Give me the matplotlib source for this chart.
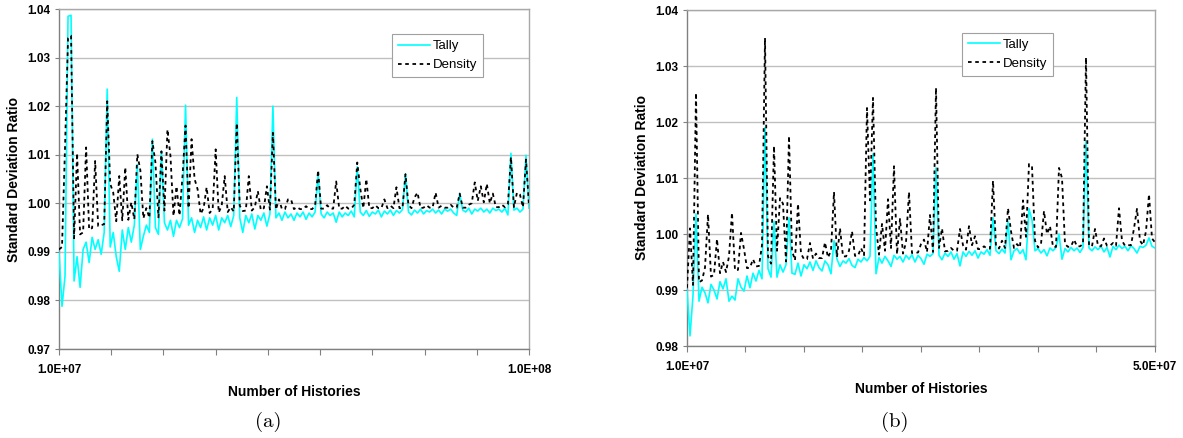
import matplotlib
matplotlib.use('Agg')
import matplotlib.pyplot as plt
import numpy as np

plt.rcParams['font.family'] = ['Liberation Sans', 'DejaVu Sans']

# values are (ratio - 1) in units of 1e-4 at even spacing
# panel (a): 1.0E+07 .. 1.0E+08 histories
dens_a = [
    -95, -90, 115, 340, 345, -72, 103, -64, -60, 115,
    -54, -51, 87, -47, -45, -43, 210, 40, 22, -37,
    56, -35, 74, -34, 2, -33, 101, 68, -31, -10,
    -30, 128, 84, -29, 107, -15, 152, 97, -26, 35,
    -25, 56, 160, -10, 132, 50, 29, -22, -10, 33,
    -20, -12, 111, -19, -5, 56, -18, -8, -17, 165,
    -5, -16, -15, 56, -15, -8, 25, -14, -10, 35,
    -13, 145, -13, 8, -12, -12, 8, 8, -12, -8,
    -12, -12, -6, -12, -12, -5, 68, -11, -11, -4,
    -11, -11, 45, -11, -11, -5, -11, -11, -3, 84,
    30, -10, 50, -10, -10, -4, -10, -10, 8, -10,
    -5, -10, 33, -10, -10, 60, -4, -10, 12, 22,
    -10, -9, -4, -9, -9, 22, -9, -5, -9, -9,
    -3, -9, -9, 20, -9, -9, -3, 0, 43, 5,
    35, 2, 40, 0, 20, -8, -8, -3, -8, -2,
    95, -8, 22, 18, -8, 90, -5,
]
tally_a = [
    -101, -212, -150, 385, 387, -160, -110, -173, -95, -80,
    -122, -70, -95, -75, -105, -60, 235, -90, -60, -110,
    -140, -55, -95, -50, -80, -45, 80, -95, -68, -45,
    -60, 132, -50, -64, 107, -40, -55, -35, -68, -35,
    -50, -32, 202, -45, -30, -60, -35, -50, -28, -55,
    -30, -45, -25, -55, -30, -40, -25, -48, -25, 218,
    -30, -60, -25, -40, -22, -53, -25, -35, -20, -47,
    -22, 200, -30, -20, -35, -18, -30, -22, -35, -20,
    -28, -18, -33, -20, -28, -18, 60, -22, -30, -18,
    -25, -20, -39, -18, -28, -20, -25, -16, -28, 75,
    -18, -25, -15, -27, -18, -22, -14, -28, -16, -22,
    -14, -25, -15, -20, -13, 60, -18, -24, -14, -20,
    -12, -22, -15, -18, -12, -20, -14, -22, -12, -16,
    -12, -20, -25, 20, -14, -18, -10, -22, -12, -16,
    -10, -18, -12, -20, -10, -15, -12, -18, -10, -24,
    103, -14, -10, -18, -12, 99, -10,
]

# panel (b): 1.0E+07 .. 5.0E+07 histories
dens_b = [
    -96, 10, -91, 252, -86, -83, -60, 35, -76, -73,
    -9, -70, -50, -68, -40, 38, -65, -64, 2, -27,
    -61, -60, -45, -58, -57, -20, 350, -40, -53, 157,
    -30, 64, 54, -49, 175, -30, -47, 54, -35, -45,
    -45, -16, -44, -35, -43, -43, -15, -42, -30, 75,
    -41, 10, -40, -40, -30, 5, -39, -39, -25, -38,
    225, 60, 243, 14, -37, 18, -30, 62, -25, 121,
    -36, 27, -35, -15, 75, -34, -34, -33, -18, -10,
    -32, 34, -32, 261, -25, 10, -31, -30, -25, -30,
    -30, 9, -20, -28, 14, -20, -4, -27, -27, -22,
    -26, -26, 95, -22, -26, -12, -25, 46, 5, -25,
    -18, -24, 60, -5, 125, 121, -12, -24, -18, 41,
    0, 14, -23, -23, 118, 100, -18, -23, -22, -10,
    -22, -22, -18, 315, -20, -22, 9, -21, -22, -8,
    -21, -21, -16, -21, 46, -12, -21, -20, -20, 10,
    45, -12, -20, 5, 71, -8, -15,
]
tally_b = [
    -100, -182, -110, 36, -120, -95, -105, -123, -90, -100,
    -116, -85, -98, -80, -120, -111, -118, -80, -95, -102,
    -75, -96, -70, -84, -65, -80, 190, -62, -77, 23,
    -77, -55, -68, -55, 29, -70, -72, -52, -75, -55,
    -62, -50, -65, -48, -60, -66, -48, -55, -71, -12,
    -45, -58, -48, -52, -44, -56, -60, -45, -50, -42,
    -48, -40, 143, -71, -42, -52, -40, -48, -58, -38,
    -45, -40, -50, -38, -45, -37, -50, -38, -44, -54,
    -36, -40, -35, 118, -38, -46, -34, -40, -32, -45,
    -35, -57, -32, -40, -31, -38, -30, -43, -32, -36,
    -28, -38, 29, -30, -35, -27, -34, 23, -46, -30,
    -26, -35, -28, -46, 45, 25, -30, -26, -34, -28,
    -39, -25, -30, -24, 0, -45, -26, -32, -24, -30,
    -25, -33, -24, 166, -25, -30, -23, -28, -22, -32,
    -24, -41, -22, -28, -20, -26, -22, -30, -21, -26,
    -34, -22, -24, -20, -7, -22, -25,
]

panels = [
    dict(dens=dens_a, tally=tally_a, xmin=1e7, xmax=1e8, step=1e7,
         ymin=0.97, xlabels=('1.0E+07', '1.0E+08'), caption='(a)',
         rect=[59, 9, 470, 340], leg=(0.709, 0.926)),
    dict(dens=dens_b, tally=tally_b, xmin=1e7, xmax=5e7, step=5e6,
         ymin=0.98, xlabels=('1.0E+07', '5.0E+07'), caption='(b)',
         rect=[687, 10, 468, 336], leg=(0.588, 0.932)),
]

W, H = 1183, 438
fig = plt.figure(figsize=(W / 100, H / 100), dpi=100)

for p in panels:
    x0, y0, w, h = p['rect']
    ax = fig.add_axes([x0 / W, 1 - (y0 + h) / H, w / W, h / H])

    x = np.linspace(p['xmin'], p['xmax'], len(p['dens']))
    dens = 1 + np.array(p['dens']) / 1e4
    tally = 1 + np.array(p['tally']) / 1e4

    ax.plot(x, tally, color='#00ffff', lw=1.2, label='Tally', zorder=3)
    ax.plot(x, dens, color='black', lw=1.3, ls=(0, (2, 2)),
            label='Density', zorder=4)

    ax.set_xlim(p['xmin'], p['xmax'])
    ax.set_ylim(p['ymin'], 1.04)
    yt = np.arange(round(p['ymin'] * 100), 105) / 100
    ax.set_yticks(yt)
    ax.set_yticklabels([f'{v:.2f}' for v in yt], fontsize=8.5,
                       fontweight='bold')
    xt = np.arange(p['xmin'], p['xmax'] + 1, p['step'])
    ax.set_xticks(xt)
    xl = [''] * len(xt)
    xl[0], xl[-1] = p['xlabels']
    ax.set_xticklabels(xl, fontsize=8.5, fontweight='bold')
    ax.tick_params(axis='x', direction='out', length=4, width=0.8,
                   color='#808080', pad=7)
    ax.tick_params(axis='y', direction='out', length=3, width=0.8,
                   color='#808080', pad=3)

    ax.grid(axis='y', color='#c0c0c0', lw=1.0, zorder=0)
    ax.set_axisbelow(True)
    for side in ['left', 'bottom']:
        ax.spines[side].set_color('#808080')
    for side in ['top', 'right']:
        ax.spines[side].set_color('#a8a8a8')
    for s in ax.spines.values():
        s.set_linewidth(1.0)

    ax.set_ylabel('Standard Deviation Ratio', fontsize=10,
                  fontweight='bold', labelpad=5)
    ax.set_xlabel('Number of Histories', fontsize=10, fontweight='bold',
                  labelpad=6)

    leg = ax.legend(loc='upper left', bbox_to_anchor=p['leg'],
                    borderaxespad=0, fancybox=False, framealpha=1,
                    edgecolor='#a0a0a0', fontsize=9.5, handlelength=2.4,
                    handletextpad=0.2, labelspacing=0.5, borderpad=0.45)
    leg.get_frame().set_linewidth(0.8)
    leg.set_zorder(10)

    fig.text((x0 + w / 2 - 26) / W, 1 - 422 / H, p['caption'],
             family='cmr10', fontsize=15, ha='center', va='center')

fig.savefig('out.png', dpi=100)
